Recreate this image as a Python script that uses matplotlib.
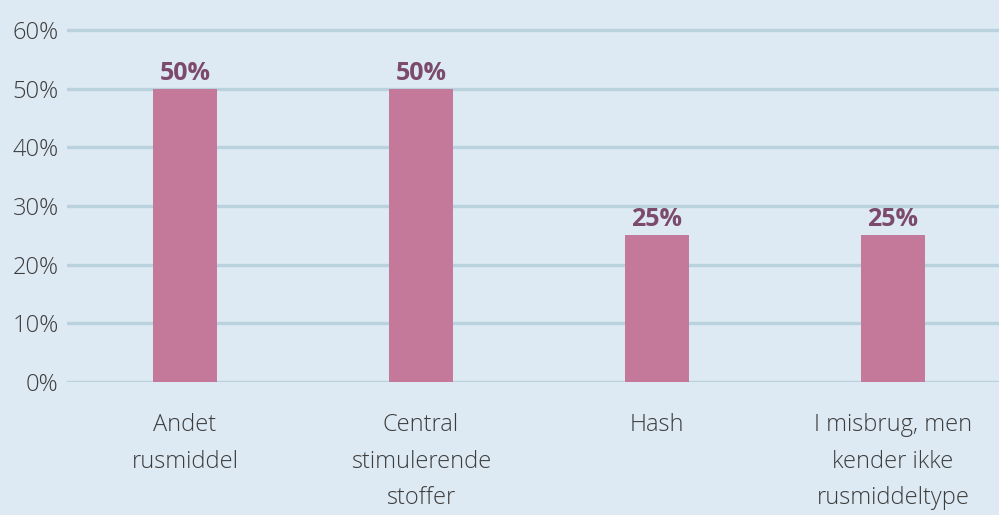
import matplotlib
matplotlib.use("Agg")
import matplotlib.pyplot as plt
import numpy as np

categories = ["Andet\nrusmiddel", "Central\nstimulerende\nstoffer", "Hash",
              "I misbrug, men\nkender ikke\nrusmiddeltype"]
values = [50, 50, 25, 25]
yticks = [0, 10, 20, 30, 40, 50, 60]
ytick_labels = ["0%", "10%", "20%", "30%", "40%", "50%", "60%"]

W, H = 999, 515
fig = plt.figure(figsize=(W / 100, H / 100), dpi=100)
fig.patch.set_facecolor("#dde9f3")

px_per_unit = 352 / 60.0
ymax = 64
left = 67 / W
width = 944 / W
bottom = (H - 382) / H
height = ymax * px_per_unit / H
ax = fig.add_axes([left, bottom, width, height])
ax.set_facecolor("none")

x = np.arange(len(categories))
ax.bar(x, values, width=64 / 236, color="#c4789a", zorder=3)
for xi, v in zip(x, values):
    ax.text(xi, v + 0.5, f"{v}%", ha="center", va="bottom", fontsize=18,
            fontweight="bold", color="#7b4a6c", family="Open Sans", zorder=4)

ax.set_xlim(-0.5, len(categories) - 0.5)
ax.set_ylim(0, ymax)
ax.set_yticks(yticks)
ax.set_yticklabels(ytick_labels)
for t in yticks:
    ax.axhline(t, color="#bad2de", lw=2.4, zorder=1)
ax.tick_params(axis="y", length=0, pad=6, labelsize=17, labelcolor="#3d3d3d")
for lab in ax.get_yticklabels():
    lab.set_family("Open Sans")
    lab.set_fontweight("light")
ax.set_xticks([])
for s in ax.spines.values():
    s.set_visible(False)

for xi, c in zip(x, categories):
    ax.text(xi, -5.3, c, ha="center", va="top", fontsize=17, color="#3d3d3d",
            family="Open Sans", fontweight="light", linespacing=1.7)

fig.savefig("out.png", dpi=100, facecolor=fig.get_facecolor())
